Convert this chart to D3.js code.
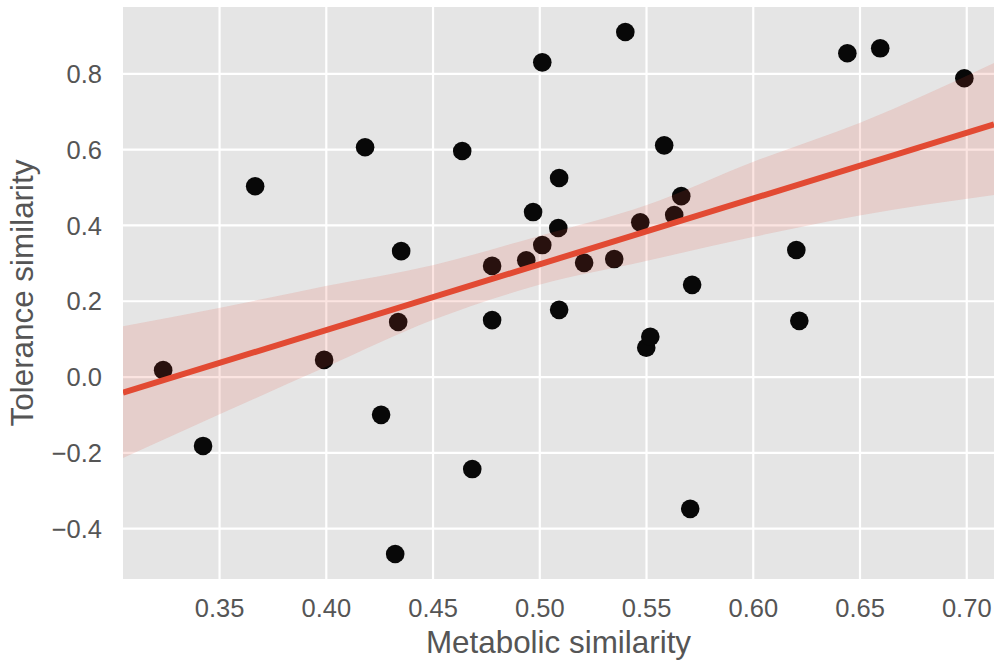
<!DOCTYPE html>
<html>
<head>
<meta charset="utf-8">
<script src="https://cdn.jsdelivr.net/npm/d3@7"></script>
<style>
  html, body { margin: 0; padding: 0; background: #ffffff; }
  svg { display: block; font-family: "Liberation Sans", Arial, Helvetica, sans-serif; }
</style>
</head>
<body>
<svg id="chart" width="994" height="661"></svg>
<script>
// ---- Data ----
const metabolic = [0.3238, 0.3425, 0.3669, 0.3992, 0.4184, 0.4259, 0.4325, 0.4339, 0.4353,
  0.4639, 0.4686, 0.4779, 0.4779, 0.4939, 0.4971, 0.5014, 0.5014, 0.5089, 0.5093, 0.5093,
  0.5210, 0.5351, 0.5403, 0.5473, 0.5501, 0.5520, 0.5585, 0.5632, 0.5665, 0.5707, 0.5716,
  0.6204, 0.6218, 0.6443, 0.6597, 0.6991];
const tolerance = [0.017, -0.183, 0.502, 0.044, 0.605, -0.101, -0.468, 0.144, 0.331,
  0.595, -0.244, 0.292, 0.149, 0.307, 0.434, 0.347, 0.829, 0.392, 0.524, 0.176,
  0.300, 0.310, 0.909, 0.407, 0.076, 0.105, 0.610, 0.426, 0.476, -0.349, 0.242,
  0.334, 0.147, 0.853, 0.866, 0.787];
// confidence band edges (bootstrap band)
const bandX     = [0.305, 0.35, 0.40, 0.45, 0.50, 0.55, 0.60, 0.65, 0.713];
const bandLower = [-0.215, -0.100, 0.025, 0.149, 0.242, 0.305, 0.368, 0.425, 0.479];
const bandUpper = [0.133, 0.181, 0.239, 0.294, 0.371, 0.452, 0.566, 0.669, 0.827];
const xTicks = [0.35, 0.40, 0.45, 0.50, 0.55, 0.60, 0.65, 0.70];
const yTicks = [-0.4, -0.2, 0.0, 0.2, 0.4, 0.6, 0.8];
const xDomain = [0.3050, 0.7130];
const yDomain = [-0.534, 0.975];
const xLabel = "Metabolic similarity";
const yLabel = "Tolerance similarity";

// ---- Layout ----
const plot = { left: 123, right: 994, top: 7, bottom: 579 };
const svg = d3.select("#chart");

const x = d3.scaleLinear().domain(xDomain).range([plot.left, plot.right]);
const y = d3.scaleLinear().domain(yDomain).range([plot.bottom, plot.top]);

svg.append("defs").append("clipPath").attr("id", "clip")
  .append("rect").attr("x", plot.left).attr("y", plot.top)
  .attr("width", plot.right - plot.left).attr("height", plot.bottom - plot.top);

// background
svg.append("rect").attr("x", plot.left).attr("y", plot.top)
  .attr("width", plot.right - plot.left).attr("height", plot.bottom - plot.top)
  .attr("fill", "#E5E5E5");

// grid via axes
const gx = svg.append("g").attr("transform", `translate(0,${plot.bottom})`)
  .call(d3.axisBottom(x).tickValues(xTicks).tickSize(-(plot.bottom - plot.top)).tickFormat(""));
const gy = svg.append("g").attr("transform", `translate(${plot.left},0)`)
  .call(d3.axisLeft(y).tickValues(yTicks).tickSize(-(plot.right - plot.left)).tickFormat(""));
[gx, gy].forEach(g => {
  g.select(".domain").remove();
  g.selectAll(".tick line").attr("stroke", "#ffffff").attr("stroke-width", 2.2);
});

// tick labels via axes
const fmtX = d3.format(".2f");
const fmtY = v => d3.format(".1f")(v).replace("-", "\u2212");
const lx = svg.append("g").attr("transform", `translate(0,${plot.bottom})`)
  .call(d3.axisBottom(x).tickValues(xTicks).tickSize(0).tickPadding(0).tickFormat(fmtX));
lx.select(".domain").remove();
lx.selectAll(".tick text").attr("dy", null).attr("y", 38)
  .attr("font-size", 25.5).attr("fill", "#555555").attr("font-family", null);
const ly = svg.append("g").attr("transform", `translate(${plot.left},0)`)
  .call(d3.axisLeft(y).tickValues(yTicks).tickSize(0).tickPadding(0).tickFormat(fmtY));
ly.select(".domain").remove();
ly.selectAll(".tick text").attr("x", -21).attr("dy", "0.36em")
  .attr("font-size", 25.5).attr("fill", "#555555").attr("font-family", null);

// ---- Regression line (OLS fit of the points) ----
const n = metabolic.length;
const mx = d3.mean(metabolic), my = d3.mean(tolerance);
let sxx = 0, sxy = 0;
for (let i = 0; i < n; i++) {
  sxx += (metabolic[i] - mx) ** 2;
  sxy += (metabolic[i] - mx) * (tolerance[i] - my);
}
const slope = sxy / sxx, intercept = my - slope * mx;
const fitLine = xDomain.map(v => ({ x: v, y: intercept + slope * v }));
const band = bandX.map((v, i) => ({ x: v, lo: bandLower[i], hi: bandUpper[i] }));

const plotG = svg.append("g").attr("clip-path", "url(#clip)");

// points (drawn first, band overlays them)
plotG.append("g").selectAll("circle")
  .data(metabolic.map((v, i) => ({ x: v, y: tolerance[i] })))
  .join("circle")
  .attr("cx", d => x(d.x)).attr("cy", d => y(d.y)).attr("r", 9.3)
  .attr("fill", "#080808");

plotG.append("path").datum(band)
  .attr("d", d3.area().curve(d3.curveMonotoneX).x(d => x(d.x)).y0(d => y(d.lo)).y1(d => y(d.hi)))
  .attr("fill", "#E24A33").attr("fill-opacity", 0.15);

plotG.append("path").datum(fitLine)
  .attr("d", d3.line().x(d => x(d.x)).y(d => y(d.y)))
  .attr("fill", "none").attr("stroke", "#E24A33").attr("stroke-width", 6);

// axis labels
svg.append("text").attr("x", (plot.left + plot.right) / 2).attr("y", 653)
  .attr("text-anchor", "middle").attr("font-size", 31.4).attr("fill", "#555555")
  .text(xLabel);
svg.append("text").attr("transform", `translate(33,${(plot.top + plot.bottom) / 2}) rotate(-90)`)
  .attr("text-anchor", "middle").attr("font-size", 31.4).attr("fill", "#555555")
  .text(yLabel);
</script>
</body>
</html>
